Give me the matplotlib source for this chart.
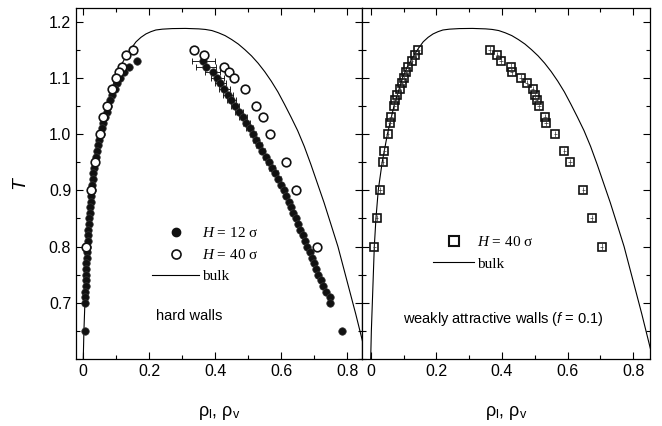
import numpy as np
import matplotlib
matplotlib.use("Agg")
from matplotlib import pyplot as plt
from matplotlib.lines import Line2D
from matplotlib.ticker import MultipleLocator, FixedLocator

plt.rcParams['font.family'] = ['Liberation Sans', 'DejaVu Sans']
plt.rcParams['mathtext.fontset'] = 'custom'
plt.rcParams['mathtext.rm'] = 'Liberation Serif'
plt.rcParams['mathtext.it'] = 'Liberation Serif:italic'
plt.rcParams['mathtext.sf'] = 'Liberation Sans:italic'

# bulk coexistence curve (rho, T), vapour branch -> top -> liquid branch
bulk_rho = [0.000, 0.002, 0.005, 0.008, 0.011, 0.016, 0.023, 0.035, 0.051, 0.071,
            0.084, 0.097, 0.112, 0.130, 0.145, 0.160, 0.175, 0.190, 0.205, 0.220,
            0.240, 0.270, 0.310, 0.350,
            0.370, 0.390, 0.410, 0.430, 0.450, 0.470, 0.490, 0.510, 0.530, 0.550,
            0.570, 0.590, 0.610, 0.630, 0.650, 0.670, 0.690, 0.710, 0.730, 0.750,
            0.772, 0.790, 0.808, 0.826, 0.843, 0.860]
bulk_T = [0.600, 0.650, 0.700, 0.750, 0.800, 0.850, 0.900, 0.950, 1.000, 1.050,
          1.075, 1.100, 1.120, 1.138, 1.152, 1.164, 1.172, 1.178, 1.182, 1.185,
          1.1865, 1.1875, 1.1878, 1.187,
          1.186, 1.184, 1.180, 1.175, 1.168, 1.160, 1.150, 1.139, 1.126, 1.111,
          1.094, 1.075, 1.053, 1.030, 1.006, 0.978, 0.946, 0.912, 0.878, 0.841,
          0.800, 0.760, 0.720, 0.680, 0.640, 0.600]

# hard walls, H = 12 sigma
T12 = [1.13, 1.12, 1.11, 1.10, 1.09, 1.08, 1.07, 1.06, 1.05, 1.04, 1.03, 1.02,
       1.01, 1.00, 0.99, 0.98, 0.97, 0.96, 0.95, 0.94, 0.93, 0.92, 0.91, 0.90,
       0.89, 0.88, 0.87, 0.86, 0.85, 0.84, 0.83, 0.82, 0.81, 0.80, 0.79, 0.78,
       0.77, 0.76, 0.75, 0.74, 0.73, 0.72, 0.71, 0.70, 0.65]
vap12 = [0.162, 0.140, 0.125, 0.112, 0.102, 0.095, 0.088, 0.082, 0.076, 0.071,
         0.066, 0.061, 0.057, 0.053, 0.049, 0.045, 0.042, 0.039, 0.036, 0.033,
         0.031, 0.029, 0.027, 0.025, 0.023, 0.022, 0.020, 0.019, 0.017, 0.016,
         0.015, 0.014, 0.013, 0.012, 0.011, 0.010, 0.009, 0.009, 0.008, 0.007,
         0.007, 0.006, 0.006, 0.005, 0.005]
liq12 = [0.364, 0.372, 0.392, 0.406, 0.416, 0.428, 0.440, 0.449, 0.460, 0.472,
         0.484, 0.494, 0.504, 0.514, 0.524, 0.533, 0.543, 0.553, 0.562, 0.572,
         0.582, 0.591, 0.600, 0.608, 0.616, 0.623, 0.630, 0.637, 0.644, 0.651,
         0.658, 0.665, 0.672, 0.679, 0.686, 0.692, 0.699, 0.706, 0.712, 0.720,
         0.728, 0.736, 0.748, 0.748, 0.783]
liq12_err = [0.035, 0.030, 0.022, 0.020, 0.018, 0.016, 0.015, 0.013, 0.012, 0.012,
             0.011, 0.010, 0.010, 0.009, 0.009, 0.009, 0.008, 0.008, 0.008, 0.008,
             0.007, 0.007, 0.007, 0.007, 0.006, 0.006, 0.006, 0.006, 0.006, 0.006,
             0.005, 0.005, 0.005, 0.005, 0.005, 0.005, 0.005, 0.005, 0.005, 0.005,
             0.005, 0.005, 0.005, 0.005, 0.004]

# hard walls, H = 40 sigma
T40h = [1.15, 1.14, 1.12, 1.11, 1.10, 1.08, 1.05, 1.03, 1.00, 0.95, 0.90, 0.80]
vap40h = [0.150, 0.131, 0.116, 0.109, 0.099, 0.086, 0.071, 0.061, 0.051, 0.035, 0.022, 0.008]
liq40h = [0.336, 0.366, 0.426, 0.442, 0.458, 0.490, 0.523, 0.545, 0.566, 0.616, 0.645, 0.709]

# weakly attractive walls (f = 0.1), H = 40 sigma
T40w = [1.15, 1.14, 1.13, 1.12, 1.11, 1.10, 1.09, 1.08, 1.07, 1.06, 1.05, 1.03,
        1.02, 1.00, 0.97, 0.95, 0.90, 0.85, 0.80]
vap40w = [0.145, 0.135, 0.125, 0.115, 0.108, 0.100, 0.094, 0.088, 0.079, 0.074,
          0.072, 0.062, 0.059, 0.052, 0.041, 0.036, 0.028, 0.018, 0.011]
liq40w = [0.362, 0.386, 0.397, 0.427, 0.430, 0.457, 0.475, 0.494, 0.501, 0.506,
          0.513, 0.531, 0.534, 0.562, 0.590, 0.607, 0.648, 0.673, 0.704]

W, H = 662, 426
fig = plt.figure(figsize=(W / 100, H / 100), dpi=100)
ax1 = fig.add_axes([76 / W, 67 / H, 286 / W, 351.5 / H])
ax2 = fig.add_axes([362 / W, 67 / H, 288 / W, 351.5 / H])

ax1.plot(bulk_rho, bulk_T, color='black', lw=0.8, zorder=1)
ax2.plot(bulk_rho, bulk_T, color='black', lw=0.8, zorder=1)

# left panel
ax1.errorbar(liq12, T12, xerr=liq12_err, fmt='none', ecolor='black', elinewidth=0.6,
             capsize=2, capthick=0.6, zorder=2)
ax1.plot(vap12, T12, 'o', color='#111111', ms=5.4, mec='#333333', mew=0.5, zorder=3)
ax1.plot(liq12, T12, 'o', color='#111111', ms=5.4, mec='#333333', mew=0.5, zorder=3)
ax1.plot(vap40h, T40h, 'o', mfc='white', mec='#111111', ms=6.2, mew=1.2, zorder=4)
ax1.plot(liq40h, T40h, 'o', mfc='white', mec='#111111', ms=6.2, mew=1.2, zorder=4)

# right panel
for rho in (vap40w, liq40w):
    ax2.errorbar(rho, T40w, xerr=0.005, yerr=0.006, fmt='none', ecolor='#333333',
                 elinewidth=0.5, capsize=0, zorder=4)
    ax2.plot(rho, T40w, 's', mfc='none', mec='#111111', ms=6.2, mew=1.2, zorder=3)

for ax in (ax1, ax2):
    ax.set_ylim(0.6, 1.225)
    ax.yaxis.set_major_locator(FixedLocator([0.7, 0.8, 0.9, 1.0, 1.1, 1.2]))
    ax.yaxis.set_minor_locator(MultipleLocator(0.05))
    ax.xaxis.set_major_locator(FixedLocator([0, 0.2, 0.4, 0.6, 0.8]))
    ax.xaxis.set_minor_locator(MultipleLocator(0.1))
    ax.set_xticklabels(['0', '0.2', '0.4', '0.6', '0.8'])
    ax.tick_params(which='both', direction='in', top=True, right=True, left=True,
                   labelsize=11.5, width=0.8)
    ax.tick_params(which='major', length=5)
    ax.tick_params(which='minor', length=3)
    for s in ax.spines.values():
        s.set_linewidth(0.9)
    ax.set_xlabel(r'ρ$_\mathregular{l}$, ρ$_\mathregular{v}$', fontsize=13, labelpad=18)

ax1.set_xlim(-0.022, 0.845)
ax2.set_xlim(-0.0265, 0.851)
ax1.set_yticklabels(['0.7', '0.8', '0.9', '1.0', '1.1', '1.2'])
ax2.tick_params(labelleft=False)
ax1.set_ylabel('T', fontsize=14, fontstyle='italic', labelpad=15)

leg1 = [Line2D([], [], ls='none', marker='o', color='#111111', ms=6),
        Line2D([], [], ls='none', marker='o', mfc='white', mec='#111111', mew=1.2, ms=6.5),
        Line2D([], [], color='black', lw=0.8)]
ax1.legend(leg1, [r'$H$ = 12 σ', r'$H$ = 40 σ', 'bulk'], loc='upper left',
           bbox_to_anchor=(0.266, 0.377), frameon=False, borderpad=0, borderaxespad=0,
           handlelength=3.1, handletextpad=0.15, labelspacing=0.5,
           prop={'family': 'Liberation Serif', 'size': 11})
leg2 = [Line2D([], [], ls='none', marker='s', mfc='none', mec='#111111', mew=1.5, ms=7),
        Line2D([], [], color='black', lw=0.8)]
ax2.legend(leg2, [r'$H$ = 40 σ', 'bulk'], loc='upper left',
           bbox_to_anchor=(0.247, 0.352), frameon=False, borderpad=0, borderaxespad=0,
           handlelength=2.7, handletextpad=0.2, labelspacing=0.5,
           prop={'family': 'Liberation Serif', 'size': 11})

ax1.text(0.395, 0.122, 'hard walls', transform=ax1.transAxes, ha='center', va='center',
         fontsize=10.5)
ax2.text(0.49, 0.114, r'weakly attractive walls ($\mathsf{f}$ = 0.1)', transform=ax2.transAxes,
         ha='center', va='center', fontsize=10.5)

fig.savefig('out.png', dpi=100)
